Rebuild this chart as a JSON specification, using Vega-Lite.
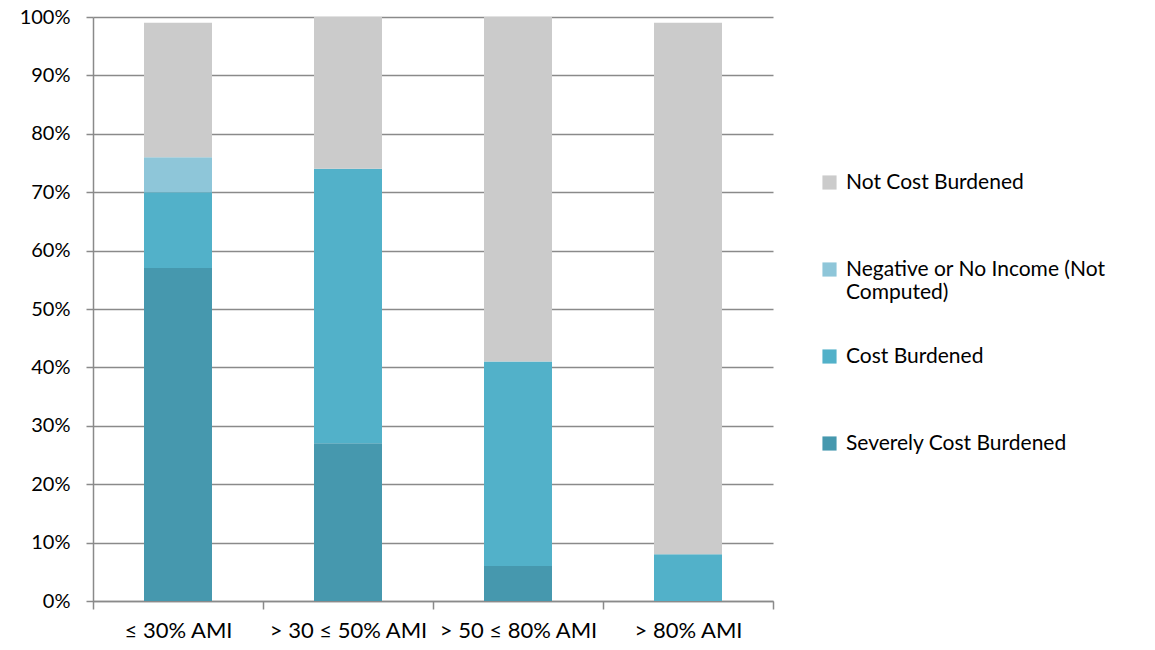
{
  "$schema": "https://vega.github.io/schema/vega-lite/v6.json",
  "autosize": {"type": "none"},
  "padding": {"left": 93, "top": 17, "right": 382, "bottom": 49},
  "width": 680,
  "height": 584,
  "background": "white",
  "config": {
    "font": "Lato",
    "view": {"stroke": null}
  },
  "data": {
    "values": [
      {"ami": "≤ 30% AMI", "status": "Severely Cost Burdened", "ord": 1, "value": 0.57},
      {"ami": "≤ 30% AMI", "status": "Cost Burdened", "ord": 2, "value": 0.13},
      {"ami": "≤ 30% AMI", "status": "Negative or No Income (Not Computed)", "ord": 3, "value": 0.06},
      {"ami": "≤ 30% AMI", "status": "Not Cost Burdened", "ord": 4, "value": 0.23},
      {"ami": "> 30 ≤ 50% AMI", "status": "Severely Cost Burdened", "ord": 1, "value": 0.27},
      {"ami": "> 30 ≤ 50% AMI", "status": "Cost Burdened", "ord": 2, "value": 0.47},
      {"ami": "> 30 ≤ 50% AMI", "status": "Negative or No Income (Not Computed)", "ord": 3, "value": 0.0},
      {"ami": "> 30 ≤ 50% AMI", "status": "Not Cost Burdened", "ord": 4, "value": 0.26},
      {"ami": "> 50 ≤ 80% AMI", "status": "Severely Cost Burdened", "ord": 1, "value": 0.06},
      {"ami": "> 50 ≤ 80% AMI", "status": "Cost Burdened", "ord": 2, "value": 0.35},
      {"ami": "> 50 ≤ 80% AMI", "status": "Negative or No Income (Not Computed)", "ord": 3, "value": 0.0},
      {"ami": "> 50 ≤ 80% AMI", "status": "Not Cost Burdened", "ord": 4, "value": 0.59},
      {"ami": "> 80% AMI", "status": "Severely Cost Burdened", "ord": 1, "value": 0.0},
      {"ami": "> 80% AMI", "status": "Cost Burdened", "ord": 2, "value": 0.08},
      {"ami": "> 80% AMI", "status": "Negative or No Income (Not Computed)", "ord": 3, "value": 0.0},
      {"ami": "> 80% AMI", "status": "Not Cost Burdened", "ord": 4, "value": 0.91}
    ]
  },
  "mark": {"type": "bar", "width": {"band": 0.4}},
  "encoding": {
    "x": {
      "field": "ami",
      "type": "nominal",
      "sort": ["≤ 30% AMI", "> 30 ≤ 50% AMI", "> 50 ≤ 80% AMI", "> 80% AMI"],
      "scale": {"paddingInner": 0, "paddingOuter": 0},
      "axis": {
        "title": null,
        "labelAngle": 0,
        "labelFontSize": 22,
        "labelColor": "#000000",
        "labelPadding": 11,
        "domainColor": "#8a8a8a",
        "domainWidth": 1.5,
        "tickColor": "#8a8a8a",
        "tickWidth": 1.5,
        "tickSize": 8,
        "tickBand": "extent",
        "grid": false
      }
    },
    "y": {
      "field": "value",
      "type": "quantitative",
      "stack": "zero",
      "scale": {"domain": [0, 1], "nice": false},
      "axis": {
        "title": null,
        "format": ".0%",
        "values": [0, 0.1, 0.2, 0.3, 0.4, 0.5, 0.6, 0.7, 0.8, 0.9, 1.0],
        "labelFontSize": 20,
        "labelColor": "#000000",
        "labelPadding": 16,
        "domain": true,
        "domainColor": "#8a8a8a",
        "domainWidth": 1.5,
        "tickColor": "#8a8a8a",
        "tickWidth": 1.5,
        "tickSize": 7,
        "grid": true,
        "gridColor": "#8a8a8a",
        "gridWidth": 1.5
      }
    },
    "order": {"field": "ord", "type": "quantitative"},
    "color": {
      "field": "status",
      "type": "nominal",
      "sort": ["Not Cost Burdened", "Negative or No Income (Not Computed)", "Cost Burdened", "Severely Cost Burdened"],
      "scale": {
        "domain": ["Not Cost Burdened", "Negative or No Income (Not Computed)", "Cost Burdened", "Severely Cost Burdened"],
        "range": ["#CBCBCB", "#8EC6D9", "#52B1C9", "#4698AE"]
      },
      "legend": {
        "title": null,
        "orient": "none",
        "legendX": 726,
        "legendY": 155,
        "columns": 1,
        "gridAlign": "all",
        "symbolType": "square",
        "symbolSize": 200,
        "symbolStrokeWidth": 0,
        "labelFontSize": 21,
        "labelColor": "#000000",
        "labelOffset": 6,
        "labelLimit": 400,
        "rowPadding": 42,
        "labelExpr": "datum.label == 'Negative or No Income (Not Computed)' ? ['Negative or No Income (Not', 'Computed)'] : datum.label"
      }
    }
  }
}
